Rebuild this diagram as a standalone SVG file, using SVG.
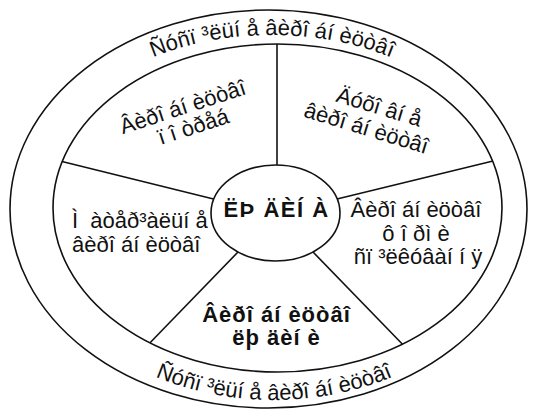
<svg xmlns="http://www.w3.org/2000/svg" width="533" height="411" viewBox="0 0 533 411">
<style>
.ln{fill:none;stroke:#111;stroke-width:1.6}
.t{font-family:"Liberation Sans",Arial,sans-serif;font-size:22px;fill:#111;white-space:pre}
.m{text-anchor:middle}
.b{font-weight:bold;letter-spacing:1px}
</style>
<defs>
<path id="arcTop" d="M 32,205 A 240,170 0 0 1 512,205"/>
<path id="arcBot" d="M 24,205 A 250,195 0 0 0 524,205"/>
</defs>
<rect width="533" height="411" fill="#fff"/>
<g id="outer-ring">
<ellipse class="ln" cx="268.5" cy="209" rx="258.5" ry="199"/>
<text class="t m"><textPath href="#arcTop" startOffset="50%">Ñóñï ³ëüí å âèðî áí èöòâî</textPath></text>
<text class="t m"><textPath href="#arcBot" startOffset="50%">Ñóñï ³ëüí å âèðî áí èöòâî</textPath></text>
</g>
<g id="inner-wheel">
<ellipse class="ln" cx="277.5" cy="208" rx="224.5" ry="164"/>
</g>
<g id="connectors">
<line class="ln" x1="277" y1="44" x2="277" y2="165"/>
<line class="ln" x1="62" y1="161.5" x2="213.5" y2="199"/>
<line class="ln" x1="493" y1="161" x2="337" y2="199"/>
<line class="ln" x1="238" y1="252" x2="149.8" y2="343"/>
<line class="ln" x1="313" y1="252" x2="402.5" y2="344.2"/>
</g>
<g id="center">
<ellipse class="ln" cx="275.5" cy="213" rx="64.5" ry="48" fill="#fff"/>
<text class="t m b" x="276.5" y="217" style="letter-spacing:1.5px">ËÞ ÄÈÍ À</text>
</g>
<g id="sector-top-left">
<text class="t m" transform="translate(185,114) rotate(-18)"><tspan x="0" y="0">Âèðî áí èöòâî</tspan><tspan x="4" y="22">ï î òðåá</tspan></text>
</g>
<g id="sector-top-right">
<text class="t m" transform="translate(377,114) rotate(17)"><tspan x="0" y="0">Äóõî âí å</tspan><tspan x="-6" y="24">âèðî áí èöòâî</tspan></text>
</g>
<g id="sector-right">
<text class="t m" x="416" y="217">Âèðî áí èöòâî</text>
<text class="t m" x="416" y="240.5">ô î ðì è</text>
<text class="t m" x="418" y="264">ñï ³ëêóâàí í ÿ</text>
</g>
<g id="sector-left">
<text class="t" x="72" y="228">Ì  àòåð³àëüí å</text>
<text class="t" x="72" y="252">âèðî áí èöòâî</text>
</g>
<g id="sector-bottom">
<text class="t m b" x="276.5" y="322">Âèðî áí èöòâî</text>
<text class="t m b" x="276.5" y="345">ëþ äèí è</text>
</g>
</svg>
